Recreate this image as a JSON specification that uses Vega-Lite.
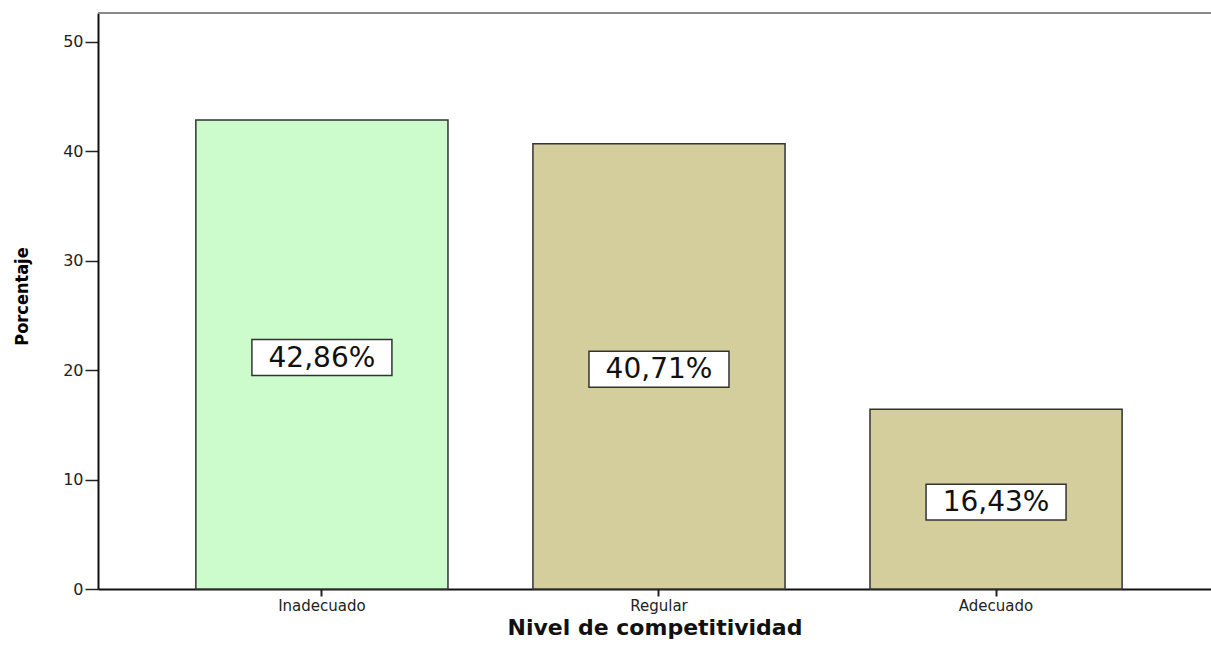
{
  "$schema": "https://vega.github.io/schema/vega-lite/v6.json",
  "width": 1113,
  "height": 576,
  "autosize": {"type": "none"},
  "padding": {"left": 98, "top": 13, "right": 0, "bottom": 60},
  "background": "white",
  "config": {"view": {"stroke": null}},
  "data": {
    "values": [
      {"Nivel": "Inadecuado", "Porcentaje": 42.86, "Etiqueta": "42,86%"},
      {"Nivel": "Regular", "Porcentaje": 40.71, "Etiqueta": "40,71%"},
      {"Nivel": "Adecuado", "Porcentaje": 16.43, "Etiqueta": "16,43%"}
    ]
  },
  "encoding": {
    "x": {
      "field": "Nivel",
      "type": "nominal",
      "sort": null,
      "scale": {"paddingInner": 0.252, "paddingOuter": 0.277, "align": 0.524},
      "axis": {
        "title": "Nivel de competitividad",
        "labelAngle": 0,
        "labelFont": "DejaVu Sans",
        "labelFontSize": 15,
        "labelColor": "#222222",
        "labelPadding": 2,
        "labelBaseline": "top",
        "tickSize": 7,
        "tickColor": "#222222",
        "tickWidth": 2,
        "domainColor": "#111111",
        "domainWidth": 2,
        "titleFont": "DejaVu Sans",
        "titleFontWeight": "bold",
        "titleFontSize": 22,
        "titleColor": "#111111",
        "titleBaseline": "alphabetic",
        "titleY": 45
      }
    }
  },
  "layer": [
    {
      "mark": {"type": "bar", "stroke": "#333333", "strokeWidth": 1.5},
      "encoding": {
        "y": {
          "field": "Porcentaje",
          "type": "quantitative",
          "scale": {"domain": [0, 52.65], "nice": false},
          "axis": {
            "title": "Porcentaje",
            "values": [0, 10, 20, 30, 40, 50],
            "grid": false,
            "labelFont": "DejaVu Sans",
            "labelFontSize": 16,
            "labelColor": "#222222",
            "labelPadding": 2,
            "tickSize": 13,
            "tickColor": "#222222",
            "tickWidth": 1.5,
            "domainColor": "#111111",
            "domainWidth": 2,
            "titleFont": "Liberation Sans Narrow, DejaVu Sans Condensed, sans-serif",
            "titleFontWeight": "bold",
            "titleFontSize": 18,
            "titleColor": "#000000",
            "titleAngle": 270,
            "titleAlign": "center",
            "titleBaseline": "middle",
            "titleX": -76,
            "titleY": 283
          }
        },
        "color": {
          "field": "Nivel",
          "type": "nominal",
          "scale": {"domain": ["Inadecuado", "Regular", "Adecuado"], "range": ["#CCFBCC", "#D3CE9C", "#D3CE9C"]},
          "legend": null
        }
      }
    },
    {
      "mark": {"type": "rule", "color": "#8a8a8a", "strokeWidth": 2},
      "encoding": {"y": {"datum": 52.65, "type": "quantitative"}, "x": null}
    },
    {
      "transform": [{"calculate": "datum.Porcentaje / 2", "as": "Centro"}],
      "mark": {
        "type": "point",
        "shape": "M-1,-0.257L1,-0.257L1,0.257L-1,0.257Z",
        "size": 19600,
        "filled": true,
        "fill": "white",
        "stroke": "#333333",
        "strokeWidth": 1.5,
        "opacity": 1,
        "fillOpacity": 1,
        "yOffset": 3
      },
      "encoding": {"y": {"field": "Centro", "type": "quantitative"}}
    },
    {
      "transform": [{"calculate": "datum.Porcentaje / 2", "as": "Centro"}],
      "mark": {
        "type": "text",
        "font": "DejaVu Sans",
        "fontSize": 28,
        "color": "#111111",
        "align": "center",
        "baseline": "middle",
        "yOffset": 4
      },
      "encoding": {
        "y": {"field": "Centro", "type": "quantitative"},
        "text": {"field": "Etiqueta", "type": "nominal"}
      }
    }
  ]
}
